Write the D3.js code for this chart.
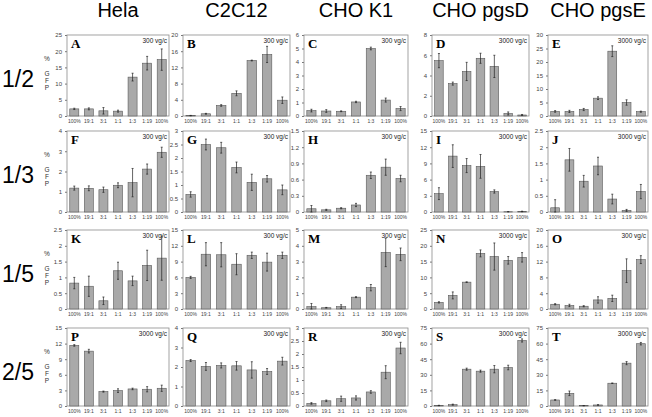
<!DOCTYPE html>
<html>
<head>
<meta charset="utf-8">
<script src="https://cdn.jsdelivr.net/npm/d3@7"></script>
<style>
  body { margin: 0; background: #fff; }
  text { font-family: "Liberation Sans", Arial, sans-serif; }
</style>
</head>
<body>
<svg id="fig" width="652" height="417"></svg>
<script>
// column / row headers
const cells  = ["Hela", "C2C12", "CHO K1", "CHO pgsD", "CHO pgsE"];
const ratios = ["1/2", "1/3", "1/5", "2/5"];
// x categories (same in every panel)
const mixes = ["100%", "19:1", "3:1", "1:1", "1:3", "1:19", "100%"];
const letters = ["A","B","C","D","E","F","G","H","I","J","K","L","M","N","O","P","Q","R","S","T"];
const doses = ["300 vg/c","300 vg/c","300 vg/c","3000 vg/c","3000 vg/c",
               "300 vg/c","300 vg/c","300 vg/c","3000 vg/c","3000 vg/c",
               "300 vg/c","300 vg/c","300 vg/c","3000 vg/c","300 vg/c",
               "3000 vg/c","300 vg/c","300 vg/c","3000 vg/c","3000 vg/c"];
// y axis max and tick step per panel
const yMax  = [25, 20, 6, 8, 30,   4, 3, 1.5, 15, 2.5,   2.5, 15, 5, 25, 20,   15, 4, 3, 75, 75];
const yStep = [5, 4, 1, 2, 5,      1, 0.5, 0.3, 3, 0.5,  0.5, 3, 1, 5, 4,      3, 1, 0.5, 15, 15];

// % GFP, one row per panel A..T
const means = [
  [2.2, 2.2, 1.6, 1.5, 12.0, 16.3, 17.4],     // A
  [0.1, 0.55, 2.6, 5.6, 13.7, 15.2, 3.9],     // B
  [0.4, 0.37, 0.35, 1.04, 5.0, 1.18, 0.55],   // C
  [5.47, 3.2, 4.4, 5.7, 4.9, 0.25, 0.1],      // D
  [1.7, 1.7, 2.4, 6.6, 24.0, 5.0, 1.6],       // E
  [1.18, 1.17, 1.1, 1.32, 1.45, 2.12, 2.95],  // F
  [0.65, 2.5, 2.38, 1.65, 1.1, 1.23, 0.82],   // G
  [0.06, 0.04, 0.07, 0.13, 0.68, 0.83, 0.62], // H
  [3.4, 10.35, 8.6, 8.45, 3.8, 0.05, 0.1],    // I
  [0.13, 1.61, 0.95, 1.42, 0.4, 0.05, 0.63],  // J
  [0.82, 0.72, 0.26, 1.21, 0.89, 1.38, 1.61], // K
  [6.0, 10.4, 10.3, 8.5, 10.2, 8.9, 10.2],    // L
  [0.15, 0.08, 0.15, 0.75, 1.35, 3.58, 3.46], // M
  [2.1, 4.3, 8.5, 17.6, 16.6, 15.4, 16.35],   // N
  [1.2, 0.9, 0.7, 2.3, 2.7, 9.7, 12.5],       // O
  [11.65, 10.55, 2.77, 2.96, 3.28, 3.22, 3.41], // P
  [2.33, 2.03, 2.08, 2.06, 1.85, 1.77, 2.3],  // Q
  [0.1, 0.2, 0.28, 0.31, 0.54, 1.3, 2.23],    // R
  [0.5, 1.3, 35.4, 33.5, 35.4, 37.0, 63.0],   // S
  [5.8, 12.2, 0.3, 1.0, 21.9, 41.2, 59.9]     // T
];
const errs = [
  [0.2, 0.3, 1.0, 0.3, 1.2, 2.1, 3.3],
  [0.05, 0.1, 0.2, 0.6, 0.1, 2.0, 0.8],
  [0.1, 0.1, 0.03, 0.05, 0.1, 0.15, 0.15],
  [0.7, 0.15, 0.9, 0.5, 1.1, 0.15, 0.05],
  [0.3, 0.4, 0.4, 0.5, 2.0, 1.0, 0.2],
  [0.1, 0.12, 0.13, 0.12, 0.7, 0.25, 0.25],
  [0.1, 0.2, 0.2, 0.2, 0.3, 0.12, 0.18],
  [0.06, 0.01, 0.01, 0.03, 0.06, 0.15, 0.06],
  [1.1, 2.1, 1.3, 2.2, 0.3, 0.02, 0.05],
  [0.25, 0.35, 0.18, 0.27, 0.15, 0.03, 0.22],
  [0.18, 0.32, 0.12, 0.27, 0.15, 0.48, 0.7],
  [0.2, 2.2, 2.3, 2.0, 0.6, 1.7, 0.6],
  [0.2, 0.02, 0.12, 0.03, 0.2, 0.9, 0.4],
  [0.2, 1.1, 0.1, 1.1, 4.3, 1.2, 1.5],
  [0.15, 0.3, 0.15, 0.8, 0.8, 3.0, 1.0],
  [0.15, 0.35, 0.1, 0.35, 0.15, 0.5, 0.6],
  [0.05, 0.2, 0.13, 0.22, 0.42, 0.15, 0.2],
  [0.03, 0.03, 0.1, 0.08, 0.05, 0.25, 0.22],
  [0.2, 0.5, 1.0, 1.0, 3.5, 2.2, 1.5],
  [0.3, 2.2, 0.1, 0.2, 0.2, 1.5, 1.2]
];

// panel placement
const colX = [67, 183, 304, 432, 548];
const colW = [102, 107, 104, 97, 100];
const rowTop = [35, 131, 230, 328];
const rowBot = [116, 212, 309, 406];

const svg = d3.select("#fig");
const fmt = d => String(+d.toFixed(2));

// column titles
cells.forEach((t, c) => {
  svg.append("text")
    .attr("x", colX[c] + colW[c] / 2).attr("y", 17)
    .attr("text-anchor", "middle")
    .style("font-size", "20px")
    .text(t);
});

// row titles + "% GFP" label
ratios.forEach((t, r) => {
  svg.append("text")
    .attr("x", 18).attr("y", rowTop[r] + 52)
    .attr("text-anchor", "middle")
    .style("font-size", "23px")
    .text(t);
  const lab = ["%", "G", "F", "P"];
  const off = [26, 41, 48, 55];
  lab.forEach((s, k) => {
    svg.append("text")
      .attr("x", 47).attr("y", rowTop[r] + off[k])
      .attr("text-anchor", "middle")
      .style("font-size", "6.5px").attr("fill", "#333")
      .text(s);
  });
});

for (let r = 0; r < 4; r++) {
  for (let c = 0; c < 5; c++) {
    const p = r * 5 + c;
    const w = colW[c], h = rowBot[r] - rowTop[r];
    const g = svg.append("g").attr("transform", "translate(" + colX[c] + "," + rowTop[r] + ")");

    const x = d3.scaleBand().domain(d3.range(mixes.length)).range([0, w])
      .paddingInner(0.38).paddingOuter(0.19);
    const y = d3.scaleLinear().domain([0, yMax[p]]).range([h, 0]);
    const ticks = d3.range(0, yMax[p] + yStep[p] / 2, yStep[p]);

    const ax = g.append("g")
      .call(d3.axisLeft(y).tickValues(ticks).tickSize(2).tickPadding(3).tickFormat(fmt));
    ax.select(".domain").remove();
    ax.selectAll("line").attr("stroke", "#777");
    ax.selectAll("text").attr("fill", "#444").style("font-size", "6px")
      .style("font-family", "'Liberation Sans', Arial, sans-serif");

    g.append("rect")
      .attr("x", 0).attr("y", 0).attr("width", w).attr("height", h)
      .attr("fill", "none").attr("stroke", "#8c8c8c").attr("stroke-width", 0.8);

    const vals = means[p], er = errs[p];
    g.selectAll(".bar").data(vals).enter().append("rect")
      .attr("class", "bar")
      .attr("x", (d, i) => x(i))
      .attr("y", d => y(d))
      .attr("width", x.bandwidth())
      .attr("height", d => h - y(d))
      .attr("fill", "#a9a9a9").attr("stroke", "#5a5a5a").attr("stroke-width", 0.6);

    const cx = i => x(i) + x.bandwidth() / 2;
    g.selectAll(".err").data(vals).enter().append("path")
      .attr("class", "err")
      .attr("d", (d, i) => {
        const lo = y(Math.max(0, d - er[i])), hi = y(d + er[i]);
        return "M" + cx(i) + "," + lo + "V" + hi +
          "M" + (cx(i) - 1) + "," + hi + "h2" +
          "M" + (cx(i) - 1) + "," + lo + "h2";
      })
      .attr("fill", "none").attr("stroke", "#222").attr("stroke-width", 0.7);

    g.selectAll(".xl").data(mixes).enter().append("text")
      .attr("class", "xl")
      .attr("x", (d, i) => cx(i)).attr("y", h + 7)
      .attr("text-anchor", "middle")
      .attr("fill", "#444").style("font-size", "5px")
      .text(d => d);

    g.append("text")
      .attr("x", 4).attr("y", 13)
      .style("font-family", "'Liberation Serif', 'Times New Roman', serif")
      .style("font-weight", "bold").style("font-size", "13px")
      .text(letters[p]);

    g.append("text")
      .attr("x", w - 2).attr("y", 8)
      .attr("text-anchor", "end")
      .attr("fill", "#222").style("font-size", "6.5px")
      .text(doses[p]);
  }
}
</script>
</body>
</html>
